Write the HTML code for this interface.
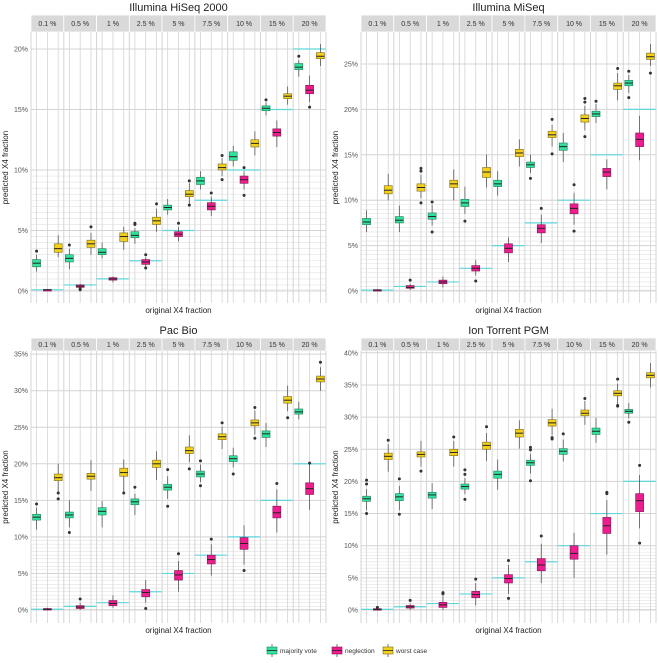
<!DOCTYPE html>
<html><head><meta charset="utf-8"><style>
body{margin:0;background:#fff;font-family:"Liberation Sans",sans-serif}
svg text{font-family:"Liberation Sans",sans-serif}
</style></head><body>
<svg id="c" width="658" height="658" xmlns="http://www.w3.org/2000/svg"></svg>
<script>
const categories=["0.1 %","0.5 %","1 %","2.5 %","5 %","7.5 %","10 %","15 %","20 %"];
const trueValues=[0.1,0.5,1,2.5,5,7.5,10,15,20];
const seriesNames=["majority vote","neglection","worst case"];
// HiSeq
const hiG_med=[2.3,2.7,3.2,4.6,6.9,9.1,11.1,15.1,18.5],hiG_q1=[2.0,2.4,3.0,4.4,6.7,8.8,10.8,14.9,18.3],hiG_q3=[2.6,3.0,3.5,4.9,7.1,9.4,11.5,15.3,18.8],hiG_lo=[1.6,1.8,2.7,3.9,6.3,8.4,10.3,14.5,17.7],hiG_hi=[3.0,3.5,4.0,5.2,7.6,9.9,12.0,15.6,19.1],hiG_out=[[3.3],[3.8],[],[5.5,5.6],[],[],[],[15.8],[19.4]];
const hiM_med=[0.1,0.4,1.0,2.4,4.7,7.0,9.2,13.1,16.6],hiM_q1=[0.08,0.3,0.9,2.2,4.5,6.7,8.9,12.8,16.3],hiM_q3=[0.12,0.5,1.1,2.6,4.9,7.3,9.5,13.4,17.0],hiM_lo=[0.05,0.2,0.7,1.9,4.1,6.2,8.4,11.9,15.6],hiM_hi=[0.15,0.6,1.2,2.8,5.3,7.8,9.9,14.1,17.8],hiM_out=[[],[0.1,0.2],[],[3.0,1.9],[5.6],[8.1],[10.2,7.9],[],[15.2]];
const hiY_med=[3.5,3.9,4.5,5.8,8.0,10.2,12.2,16.1,19.4],hiY_q1=[3.2,3.6,4.1,5.5,7.8,10.0,11.9,15.9,19.2],hiY_q3=[3.9,4.2,4.8,6.1,8.3,10.5,12.5,16.3,19.7],hiY_lo=[2.8,3.0,3.4,4.9,7.2,9.5,11.2,15.4,18.6],hiY_hi=[4.6,4.8,5.3,6.8,8.9,11.0,13.2,16.9,20.4],hiY_out=[[],[5.3],[],[7.2],[9.1,7.1],[11.2,9.2],[],[],[]];
// MiSeq
const miG_med=[7.6,7.8,8.2,9.7,11.8,13.9,15.9,19.5,22.9],miG_q1=[7.3,7.5,7.9,9.3,11.5,13.6,15.5,19.2,22.6],miG_q3=[8.0,8.2,8.6,10.1,12.2,14.2,16.3,19.8,23.2],miG_lo=[6.5,6.5,7.2,8.5,10.5,13.0,14.2,18.5,21.8],miG_hi=[8.9,9.4,9.5,11.5,13.2,15.0,17.4,20.6,23.8],miG_out=[[],[],[9.8,6.5],[7.7],[],[12.4],[],[20.9],[24.2,21.3]];
const miM_med=[0.1,0.4,1.0,2.5,4.7,6.9,9.1,13.1,16.7],miM_q1=[0.05,0.3,0.8,2.2,4.2,6.4,8.5,12.6,15.9],miM_q3=[0.15,0.6,1.2,2.8,5.2,7.3,9.6,13.5,17.4],miM_lo=[0,0.1,0.4,1.7,3.2,5.3,7.3,11.2,14.4],miM_hi=[0.2,0.8,1.6,3.4,5.9,8.4,10.8,14.5,19.3],miM_out=[[],[1.2],[],[1.1],[],[9.1],[11.7,6.6],[],[]];
const miY_med=[11.1,11.4,11.8,13.1,15.2,17.2,19.0,22.6,25.8],miY_q1=[10.7,11.0,11.4,12.5,14.8,16.9,18.6,22.2,25.5],miY_q3=[11.6,11.8,12.2,13.6,15.6,17.6,19.4,22.9,26.2],miY_lo=[10.0,10.2,10.0,11.4,13.7,15.9,17.7,21.0,24.8],miY_hi=[12.9,12.8,13.4,15.0,16.7,18.3,20.4,24.0,27.2],miY_out=[[],[13.5,13.2,9.7],[],[],[],[18.9,15.1],[21.2,20.8,17.0],[24.5],[24.0]];
// PacBio
const pbG_med=[12.7,13.0,13.5,14.8,16.8,18.6,20.7,24.1,27.1],pbG_q1=[12.3,12.6,13.0,14.4,16.4,18.2,20.3,23.6,26.8],pbG_q3=[13.1,13.4,14.0,15.2,17.2,19.0,21.1,24.5,27.5],pbG_lo=[11.0,11.3,11.3,13.0,15.2,17.5,19.5,22.3,26.1],pbG_hi=[14.0,15.0,14.9,15.9,18.3,19.9,22.2,25.6,28.5],pbG_out=[[14.5],[10.6],[],[16.8],[19.2,14.2],[20.4,17.0],[18.6],[],[]];
const pbM_med=[0.1,0.4,0.9,2.4,4.8,6.9,9.1,13.3,16.6],pbM_q1=[0.0,0.2,0.6,1.8,4.1,6.3,8.3,12.6,15.8],pbM_q3=[0.2,0.6,1.3,2.8,5.4,7.5,9.9,14.2,17.4],pbM_lo=[0,0,0.3,1.0,2.5,4.7,6.2,10.6,13.7],pbM_hi=[0.3,1.0,2.0,4.1,6.7,9.0,11.6,16.5,20.0],pbM_out=[[],[1.5],[],[0.2],[7.7],[9.7],[5.4],[17.3],[20.1]];
const pbY_med=[18.1,18.3,18.8,20.0,21.8,23.7,25.6,28.7,31.6],pbY_q1=[17.7,17.9,18.3,19.5,21.4,23.3,25.2,28.3,31.2],pbY_q3=[18.6,18.7,19.4,20.5,22.3,24.1,26.0,29.2,32.0],pbY_lo=[16.2,16.3,16.2,17.8,20.2,22.0,24.0,27.2,30.0],pbY_hi=[20.0,20.5,20.6,21.7,23.9,25.1,27.3,30.7,33.2],pbY_out=[[16.0,15.2],[],[16.0],[],[19.3],[25.6],[27.7,23.5],[26.3],[33.9]];
// Ion Torrent
const itG_med=[17.3,17.6,17.9,19.2,21.1,22.9,24.7,27.8,30.9],itG_q1=[16.9,17.0,17.4,18.8,20.5,22.5,24.2,27.3,30.6],itG_q3=[17.7,18.1,18.3,19.6,21.6,23.3,25.1,28.3,31.2],itG_lo=[15.5,15.5,15.7,18.0,18.7,21.2,23.1,26.0,29.8],itG_hi=[18.8,19.3,19.7,20.5,23.4,24.3,26.5,29.9,32.2],itG_out=[[20.2,19.6,15.0],[20.4,14.9],[],[21.8,21.1,17.2],[],[25.3,24.9,20.1],[27.4],[],[29.2]];
const itM_med=[0.1,0.5,0.8,2.4,4.9,7.0,8.8,13.1,17.0],itM_q1=[0,0.3,0.4,1.9,4.2,6.1,7.9,11.9,15.3],itM_q3=[0.2,0.7,1.2,2.9,5.5,8.0,10.0,14.4,18.1],itM_lo=[0,0,0,0.7,2.5,4.2,5.0,8.6,12.7],itM_hi=[0.3,1.0,2.2,4.2,7.0,10.3,12.0,17.1,21.0],itM_out=[[0.4],[1.5],[2.7,2.5],[4.8],[7.7,1.8],[11.5],[],[18.3,18.1],[22.5,10.4]];
const itY_med=[23.9,24.2,24.5,25.6,27.5,29.1,30.6,33.7,36.5],itY_q1=[23.4,23.8,24.0,25.0,26.9,28.6,30.2,33.3,36.1],itY_q3=[24.4,24.6,25.0,26.1,28.1,29.6,31.1,34.1,36.9],itY_lo=[21.5,22.3,22.3,23.2,25.1,27.2,28.8,31.9,34.6],itY_hi=[25.8,26.3,26.3,27.5,29.5,31.3,32.5,35.2,38.4],itY_out=[[26.4],[21.6],[26.9],[28.5],[],[26.8,26.6],[32.9],[35.9,31.8,31.7],[]];
const yTicksHi=[0,5,10,15,20],yTicksMi=[0,5,10,15,20,25],yTicksPb=[0,5,10,15,20,25,30,35],yTicksIt=[0,5,10,15,20,25,30,35,40];

const NS="http://www.w3.org/2000/svg";
const svg=document.getElementById('c');
function mk(tag,attrs,parent,text){const e=document.createElementNS(NS,tag);for(const k in attrs)e.setAttribute(k,attrs[k]);if(text!==undefined)e.textContent=text;(parent||svg).appendChild(e);return e;}
const fills=["#2fe39c","#ee1c8f","#f2d01c"],strokes=["#2a7a5a","#7a1a50","#7a6a1a"];
const panels=[
 {name:"illumina-hiseq",title:"Illumina HiSeq 2000",x0:31,x1:326,st:15,pt:32,pb:303,z:291,k:12.1,ticks:yTicksHi,s:[[hiG_med,hiG_q1,hiG_q3,hiG_lo,hiG_hi,hiG_out],[hiM_med,hiM_q1,hiM_q3,hiM_lo,hiM_hi,hiM_out],[hiY_med,hiY_q1,hiY_q3,hiY_lo,hiY_hi,hiY_out]]},
 {name:"illumina-miseq",title:"Illumina MiSeq",x0:361,x1:656,st:15,pt:32,pb:303,z:291,k:9.08,ticks:yTicksMi,s:[[miG_med,miG_q1,miG_q3,miG_lo,miG_hi,miG_out],[miM_med,miM_q1,miM_q3,miM_lo,miM_hi,miM_out],[miY_med,miY_q1,miY_q3,miY_lo,miY_hi,miY_out]]},
 {name:"pac-bio",title:"Pac Bio",x0:31,x1:326,st:338,pt:351,pb:623,z:610,k:7.31,ticks:yTicksPb,s:[[pbG_med,pbG_q1,pbG_q3,pbG_lo,pbG_hi,pbG_out],[pbM_med,pbM_q1,pbM_q3,pbM_lo,pbM_hi,pbM_out],[pbY_med,pbY_q1,pbY_q3,pbY_lo,pbY_hi,pbY_out]]},
 {name:"ion-torrent",title:"Ion Torrent PGM",x0:361,x1:656,st:338,pt:351,pb:623,z:610,k:6.43,ticks:yTicksIt,s:[[itG_med,itG_q1,itG_q3,itG_lo,itG_hi,itG_out],[itM_med,itM_q1,itM_q3,itM_lo,itM_hi,itM_out],[itY_med,itY_q1,itY_q3,itY_lo,itY_hi,itY_out]]}
];
const offs=[0.17,0.5,0.83];
panels.forEach(P=>{
 const g=mk('g',{});
 const y=v=>P.z-v*P.k;
 const fw=(P.x1-P.x0)/categories.length;
 const xc=(i,s)=>P.x0+fw*i+fw*offs[s];
 const cx=(P.x0+P.x1)/2;
 const t=mk('text',{x:cx,y:P.st-4,'text-anchor':'middle','font-size':11,fill:'#222'},g,P.title);
 // minor grid
 for(let v=0;v<=10;v+=0.5){mk('line',{x1:P.x0,x2:P.x1,y1:y(v),y2:y(v),stroke:'#e2e2e2','stroke-width':0.6},g);}
 mk('line',{x1:P.x0,x2:P.x1,y1:y(0.1),y2:y(0.1),stroke:'#e2e2e2','stroke-width':0.6},g);
 P.ticks.forEach(v=>{mk('line',{x1:P.x0,x2:P.x1,y1:y(v),y2:y(v),stroke:'#d4d4d4','stroke-width':1},g);
  const tl=mk('text',{x:P.x0-3,y:y(v)+2.5,'text-anchor':'end','font-size':7,fill:'#555'},g,v+'%');});
 categories.forEach((c,i)=>{
  const fx=P.x0+fw*i;
  const sr=mk('rect',{x:fx,y:P.st,width:fw,height:P.pt-P.st,fill:'#d9d9d9',stroke:'#fff','stroke-width':0.8},g);
  const st=mk('text',{x:fx+fw/2,y:(P.st+P.pt)/2+2.5,'text-anchor':'middle','font-size':7,fill:'#333'},g,c);
  mk('line',{x1:fx,x2:fx,y1:P.pt,y2:P.pb,stroke:'#d4d4d4','stroke-width':1},g);
  for(let s=0;s<3;s++)mk('line',{x1:xc(i,s),x2:xc(i,s),y1:P.pt,y2:P.pb,stroke:'#d4d4d4','stroke-width':0.8},g);
  const rl=mk('line',{x1:fx,x2:fx+fw,y1:y(trueValues[i]),y2:y(trueValues[i]),stroke:'#5fd6dc','stroke-width':1.2},g);
 });
 mk('line',{x1:P.x1,x2:P.x1,y1:P.pt,y2:P.pb,stroke:'#d4d4d4','stroke-width':1},g);
 P.s.forEach((ser,s)=>{
  const [med,q1,q3,lo,hi,out]=ser;
  categories.forEach((c,i)=>{
   const x=xc(i,s),bw=8;
   mk('line',{x1:x,x2:x,y1:y(lo[i]),y2:y(hi[i]),stroke:'#555','stroke-width':0.8},g);
   const h=Math.max(1.5,y(q1[i])-y(q3[i]));
   const b=mk('rect',{x:x-bw/2,y:y(q3[i]),width:bw,height:h,fill:fills[s],stroke:strokes[s],'stroke-width':0.6},g);
   
   mk('line',{x1:x-bw/2,x2:x+bw/2,y1:y(med[i]),y2:y(med[i]),stroke:'#222','stroke-width':1},g);
   out[i].forEach(o=>{const d=mk('circle',{cx:x,cy:y(o),r:1.5,fill:'#333'},g);});
  });
 });
 const xl=mk('text',{x:cx,y:P.pb+10,'text-anchor':'middle','font-size':8,fill:'#222'},g,'original X4 fraction');
 const ym=(P.pt+P.pb)/2,yx=P.x0-23;
 const yl=mk('text',{x:yx,y:ym,'text-anchor':'middle','font-size':8,fill:'#222',transform:`rotate(-90 ${yx} ${ym})`},g,'predicted X4 fraction');
});
// legend
const lg=mk('g',{});
const lx=[267,332,383];
seriesNames.forEach((n,s)=>{
 const e=mk('g',{},lg);
 mk('line',{x1:lx[s]+5,x2:lx[s]+5,y1:644,y2:657,stroke:'#555','stroke-width':0.8},e);
 mk('rect',{x:lx[s],y:647,width:10,height:7,fill:fills[s],stroke:strokes[s],'stroke-width':0.6},e);
 mk('line',{x1:lx[s],x2:lx[s]+10,y1:650.5,y2:650.5,stroke:'#222','stroke-width':0.8},e);
 mk('text',{x:lx[s]+13,y:653,'font-size':6.5,fill:'#333'},e,n);
});
</script>
</body></html>
